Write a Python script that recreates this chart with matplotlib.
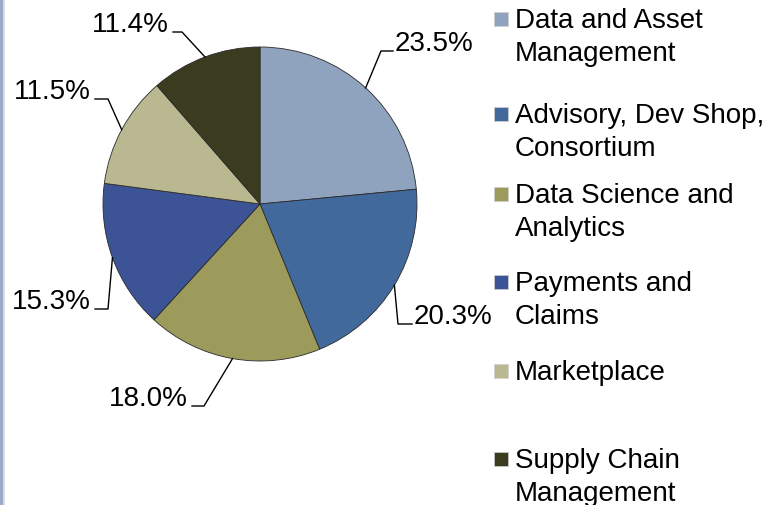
import matplotlib
matplotlib.use("Agg")
import matplotlib.pyplot as plt
from matplotlib.patches import Rectangle
import numpy as np

plt.rcParams['font.family'] = ['Liberation Sans', 'DejaVu Sans']

labels = ["Data and Asset\nManagement", "Advisory, Dev Shop,\nConsortium",
          "Data Science and\nAnalytics", "Payments and\nClaims",
          "Marketplace", "Supply Chain\nManagement"]
shares = [23.5, 20.3, 18.0, 15.3, 11.5, 11.4]
colors = ['#8FA3BE', '#42699B', '#9D9B5C', '#3C5495', '#B9B890', '#3B3B20']

W, H = 768, 506
cx, cy, R = 260, 205, 157   # pie centre / radius in pixels (y from top)

fig = plt.figure(figsize=(W / 100, H / 100), dpi=100)
fig.patch.set_facecolor('white')

# thin frame strip on the left edge
fig.patches.append(Rectangle((0, 0), 3 / W, 1, transform=fig.transFigure,
                             facecolor='#9AAAC4', edgecolor='none'))
fig.patches.append(Rectangle((3 / W, 0), 2 / W, 1, transform=fig.transFigure,
                             facecolor='#D5DCE8', edgecolor='none'))

ax = fig.add_axes([(cx - R) / W, (H - cy - R) / H, 2 * R / W, 2 * R / H])
wedges, _ = ax.pie(shares, colors=colors, startangle=90, counterclock=False,
                   radius=1, wedgeprops=dict(edgecolor='#2a2a2a', linewidth=0.6))
ax.set_xlim(-1, 1)
ax.set_ylim(-1, 1)
ax.axis('off')


def d(px, py):
    return (px - cx) / R, (cy - py) / R


# leader elbows, line ends and text anchors (pixels, y from top)
elbows = [(381, 52), (398, 325), (204, 407), (108, 310), (108, 100), (182, 33)]
ends = [(393, 52), (412, 325), (192, 407), (95, 310), (95, 100), (173, 33)]
sides = ['left', 'left', 'right', 'right', 'right', 'right']

for w, v, el, en, ha in zip(wedges, shares, elbows, ends, sides):
    mid = np.deg2rad((w.theta1 + w.theta2) / 2)
    p0 = (np.cos(mid), np.sin(mid))
    p1 = d(*el)
    p2 = d(*en)
    ax.plot([p0[0], p1[0], p2[0]], [p0[1], p1[1], p2[1]], color='black',
            lw=1.0, clip_on=False)
    tx = p2[0] + (2 / R if ha == 'left' else -4 / R)
    ax.text(tx, p2[1] + 1 / R, f"{v:.1f}%", ha=ha, va='baseline',
            fontsize=20, color='black', clip_on=False)

# legend drawn by hand to keep the reference spacing
leg_y = [20, 115, 195, 283, 372, 460]
for lab, col, ly in zip(labels, colors, leg_y):
    fig.patches.append(Rectangle((494 / W, 1 - (ly + 7) / H), 14 / W, 14 / H,
                                 transform=fig.transFigure, facecolor=col,
                                 edgecolor='#d0d0d0', linewidth=0.5))
    fig.text(515 / W, 1 - (ly - 12) / H, lab, ha='left', va='top',
             fontsize=20, color='black', linespacing=1.33)

fig.savefig("out.png", dpi=100)
